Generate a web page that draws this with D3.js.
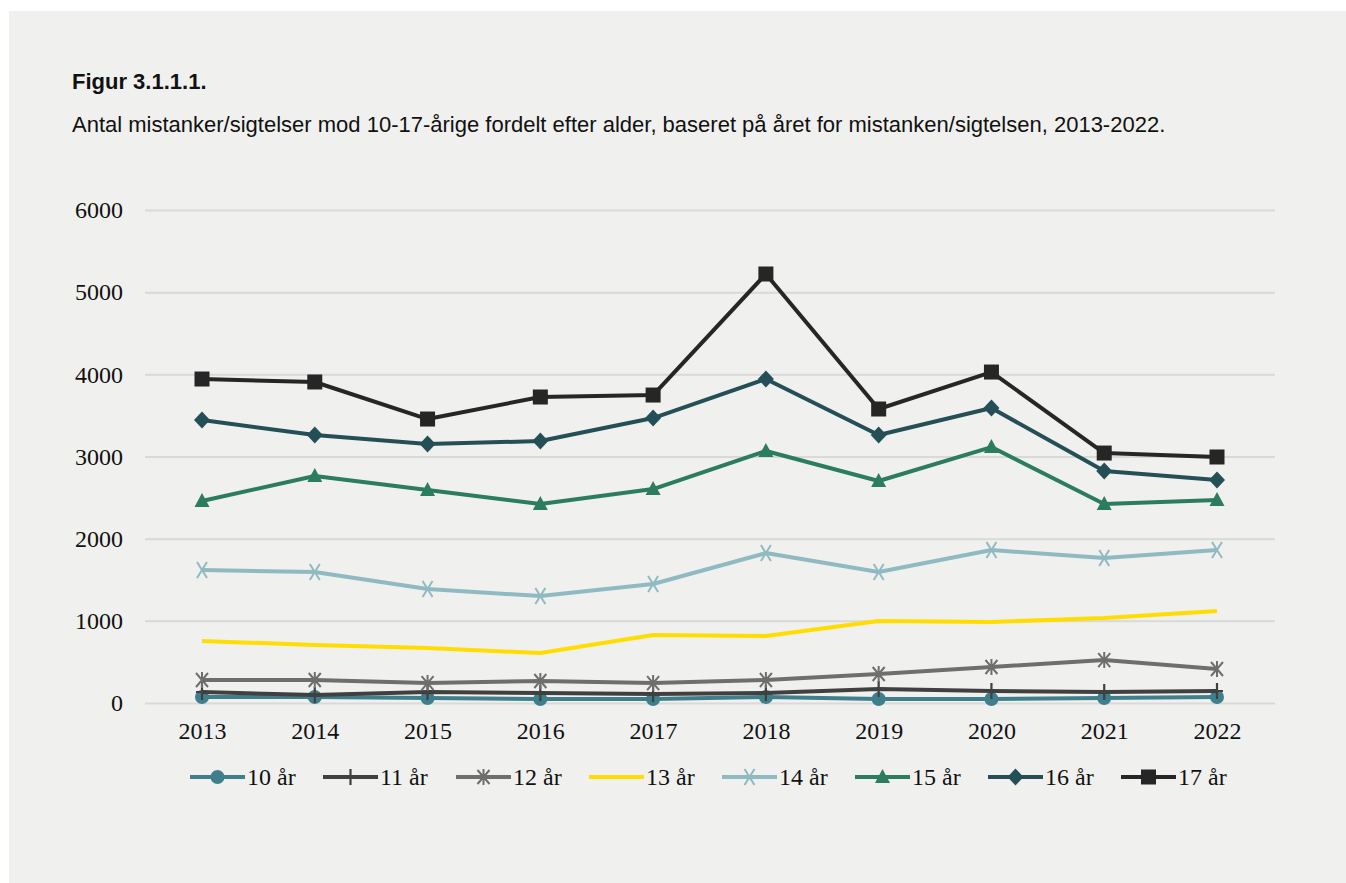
<!DOCTYPE html>
<head>
  <meta charset="utf-8">
  <script src="https://d3js.org/d3.v7.min.js"></script>
  <style>
    body {
      margin: 0;
      background: #ffffff;
    }
    svg {
      display: block;
    }
  </style>
</head>

<body>
  <script>
    // years on the x axis
    var years = [2013, 2014, 2015, 2016, 2017, 2018, 2019, 2020, 2021, 2022];

    // one array per age group
    var age10 = [73, 73, 61, 49, 49, 73, 49, 49, 61, 73];
    var age11 = [134, 97, 134, 122, 110, 122, 170, 146, 134, 146];
    var age12 = [280, 280, 243, 268, 243, 280, 353, 438, 523, 414];
    var age13 = [754, 706, 669, 608, 828, 815, 998, 986, 1034, 1120];
    var age14 = [1619, 1594, 1387, 1302, 1448, 1825, 1594, 1862, 1765, 1862];
    var age15 = [2458, 2763, 2592, 2422, 2604, 3067, 2702, 3115, 2422, 2470];
    var age16 = [3444, 3262, 3152, 3188, 3468, 3943, 3262, 3590, 2823, 2714];
    var age17 = [3943, 3907, 3456, 3724, 3748, 5221, 3578, 4028, 3042, 2994];

    var seriesNames = ["10 år", "11 år", "12 år", "13 år", "14 år", "15 år", "16 år", "17 år"];
    var yTicks = [0, 1000, 2000, 3000, 4000, 5000, 6000];

    var series = [
      { name: seriesNames[0], values: age10, color: "#3e7f8b", marker: "circle" },
      { name: seriesNames[1], values: age11, color: "#404040", marker: "plus" },
      { name: seriesNames[2], values: age12, color: "#6e6e6e", marker: "star" },
      { name: seriesNames[3], values: age13, color: "#ffdd00", marker: "none" },
      { name: seriesNames[4], values: age14, color: "#8fbac2", marker: "x" },
      { name: seriesNames[5], values: age15, color: "#2b7c60", marker: "triangle" },
      { name: seriesNames[6], values: age16, color: "#244f56", marker: "diamond" },
      { name: seriesNames[7], values: age17, color: "#262626", marker: "square" }
    ];

    var outerWidth = 1346,
      outerHeight = 883;

    var xScale = d3.scalePoint()
      .domain(years)
      .range([202, 1217]);

    var yScale = d3.scaleLinear()
      .domain([0, 6000])
      .range([703, 210]);

    var svg = d3.select("body")
      .append("svg")
      .attr("width", outerWidth)
      .attr("height", outerHeight);

    // grey panel
    svg.append("rect")
      .attr("x", 9)
      .attr("y", 11)
      .attr("width", outerWidth - 9)
      .attr("height", outerHeight - 11)
      .attr("fill", "#f0f0ee");

    svg.append("text")
      .attr("x", 72)
      .attr("y", 89)
      .attr("font-family", "Liberation Sans, Arial, sans-serif")
      .attr("font-weight", "bold")
      .attr("font-size", 22)
      .attr("fill", "#111")
      .text("Figur 3.1.1.1.");

    svg.append("text")
      .attr("x", 72)
      .attr("y", 132)
      .attr("font-family", "Liberation Sans, Arial, sans-serif")
      .attr("font-size", 22)
      .attr("fill", "#111")
      .text("Antal mistanker/sigtelser mod 10-17-årige fordelt efter alder, baseret på året for mistanken/sigtelsen, 2013-2022.");

    // gridlines + y labels
    var yAxis = d3.axisLeft(yScale)
      .tickValues(yTicks)
      .tickFormat(d3.format("d"))
      .tickSize(-(1275 - 145))
      .tickPadding(22);

    var yAxisContainer = svg.append("g")
      .attr("transform", "translate(145 0)")
      .call(yAxis);
    yAxisContainer.select(".domain").remove();
    yAxisContainer.selectAll("line")
      .attr("stroke", "#d9d9d9")
      .attr("stroke-width", 2);
    yAxisContainer.selectAll("text")
      .attr("font-family", "Liberation Serif, Times New Roman, serif")
      .attr("font-size", 24)
      .attr("fill", "#111");

    var xAxis = d3.axisBottom(xScale)
      .tickSize(0)
      .tickPadding(19);

    var xAxisContainer = svg.append("g")
      .attr("transform", "translate(0 703)")
      .call(xAxis);
    xAxisContainer.select(".domain").remove();
    xAxisContainer.selectAll("text")
      .attr("font-family", "Liberation Serif, Times New Roman, serif")
      .attr("font-size", 24)
      .attr("fill", "#111");

    // draw one marker shape at the current origin
    function drawMarker(g, s) {
      if (s.marker === "circle") {
        g.append("circle").attr("r", 7).attr("fill", s.color);
      } else if (s.marker === "square") {
        g.append("rect").attr("x", -7.5).attr("y", -7.5).attr("width", 15).attr("height", 15).attr("fill", s.color);
      } else if (s.marker === "diamond") {
        g.append("path").attr("d", "M0,-8.5L8,0L0,8.5L-8,0Z").attr("fill", s.color);
      } else if (s.marker === "triangle") {
        g.append("path").attr("d", "M0,-8L7.5,6L-7.5,6Z").attr("fill", s.color);
      } else if (s.marker === "plus") {
        g.append("path").attr("d", "M0,-8V8M-6,0H6").attr("stroke", s.color).attr("stroke-width", 2.2);
      } else if (s.marker === "x") {
        g.append("path").attr("d", "M-5,-8L5,8M5,-8L-5,8").attr("stroke", s.color).attr("stroke-width", 2);
      } else if (s.marker === "star") {
        g.append("path").attr("d", "M-6,-7L6,7M6,-7L-6,7M0,-8V8").attr("stroke", s.color).attr("stroke-width", 2);
      }
    }

    var line = d3.line()
      .x(function(d, i) { return xScale(years[i]); })
      .y(function(d) { return yScale(d); });

    series.forEach(function(s) {
      var g = svg.append("g");
      g.append("path")
        .datum(s.values)
        .attr("d", line)
        .attr("fill", "none")
        .attr("stroke", s.color)
        .attr("stroke-width", 4)
        .attr("stroke-linejoin", "round");

      s.values.forEach(function(v, i) {
        var m = g.append("g")
          .attr("transform", "translate(" + xScale(years[i]) + " " + yScale(v) + ")");
        drawMarker(m, s);
      });
    });

    // legend
    var legend = svg.append("g")
      .attr("transform", "translate(190 777)");

    series.forEach(function(s, i) {
      var item = legend.append("g")
        .attr("transform", "translate(" + (i * 133) + " 0)");
      item.append("line")
        .attr("x1", 0)
        .attr("x2", 55)
        .attr("stroke", s.color)
        .attr("stroke-width", 4);
      var m = item.append("g").attr("transform", "translate(27.5 0)");
      drawMarker(m, s);
      item.append("text")
        .attr("x", 57)
        .attr("y", 8)
        .attr("font-family", "Liberation Serif, Times New Roman, serif")
        .attr("font-size", 24)
        .attr("fill", "#111")
        .text(s.name);
    });
  </script>
</body>
